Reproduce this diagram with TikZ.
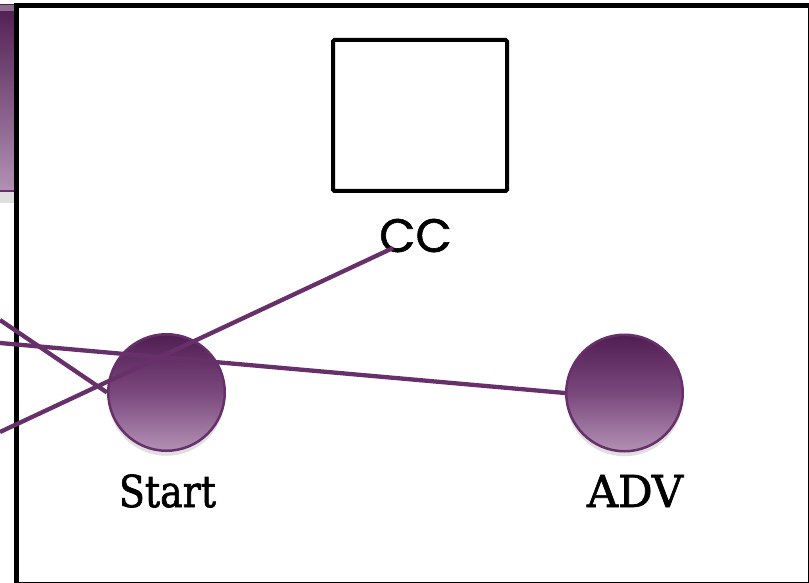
\documentclass[tikz,border=0pt]{standalone}
\usepackage{fontspec}
\setmainfont[FakeBold=1.6]{DejaVu Serif}
\newfontfamily\ccfont[FakeBold=1.2]{Poppins}
\usetikzlibrary{shadows}
\definecolor{plum}{RGB}{104,48,106}
\definecolor{plumdark}{RGB}{80,30,82}
\definecolor{plumlight}{RGB}{178,145,180}
\tikzset{
  ball/.style={circle, draw=plum, line width=2.5pt, minimum size=116.5pt, inner sep=0pt,
    top color=plumdark, bottom color=plumlight, middle color=plum!75!plumlight,
    drop shadow={shadow xshift=0pt, shadow yshift=-5pt, opacity=0.25}},
  link/.style={draw=plum, line width=4.3pt},
  lbl/.style={anchor=base, inner sep=0pt, font=\fontsize{44}{50}\selectfont},
}
\begin{document}
\begin{tikzpicture}[x=1pt, y=-1pt]
\useasboundingbox (0,0) rectangle (809,583);
\fill[white] (0,0) rectangle (809,583);
% side panel
\fill[gray, opacity=0.25] (-40,191) rectangle (15,203);
\shade[top color=plumdark, bottom color=plumlight] (-40,5) rectangle (15,191);
\fill[white, opacity=0.35] (-40,5) rectangle (15,11);
\draw[plum, line width=2pt] (-40,191) -- (15,191);
% frame
\draw[black, line width=5pt] (16.5,5.8) rectangle (810,584);
% CC box
\node[draw=black, line width=4pt, minimum width=174pt, minimum height=151pt, rounded corners=1.5pt] (ccbox) at (420,115.5) {};
\node[inner sep=0pt, anchor=base, font=\ccfont\fontsize{47}{53}\selectfont] (cc) at (415.5,252) {\scalebox{1.0}[1]{CC}};
\coordinate (ccend) at (393,248);
% balls
\node[ball] (start) at (166.5,392.5) {};
\node[ball] (adv) at (624.5,393) {};
\node[lbl] (startlbl) at (167.5,507) {\scalebox{0.86}[1]{Start}};
\node[lbl] (advlbl) at (635,507) {\scalebox{0.98}[1]{ADV}};
% connector origins
\coordinate (o1) at (0,343);
\coordinate (o2) at (0,320);
\coordinate (o3) at (0,432);
\draw[link] (o1) -- (adv.west);
\draw[link] (o2) -- (start.west);
\draw[link] (o3) -- (ccend);
\end{tikzpicture}
\end{document}
